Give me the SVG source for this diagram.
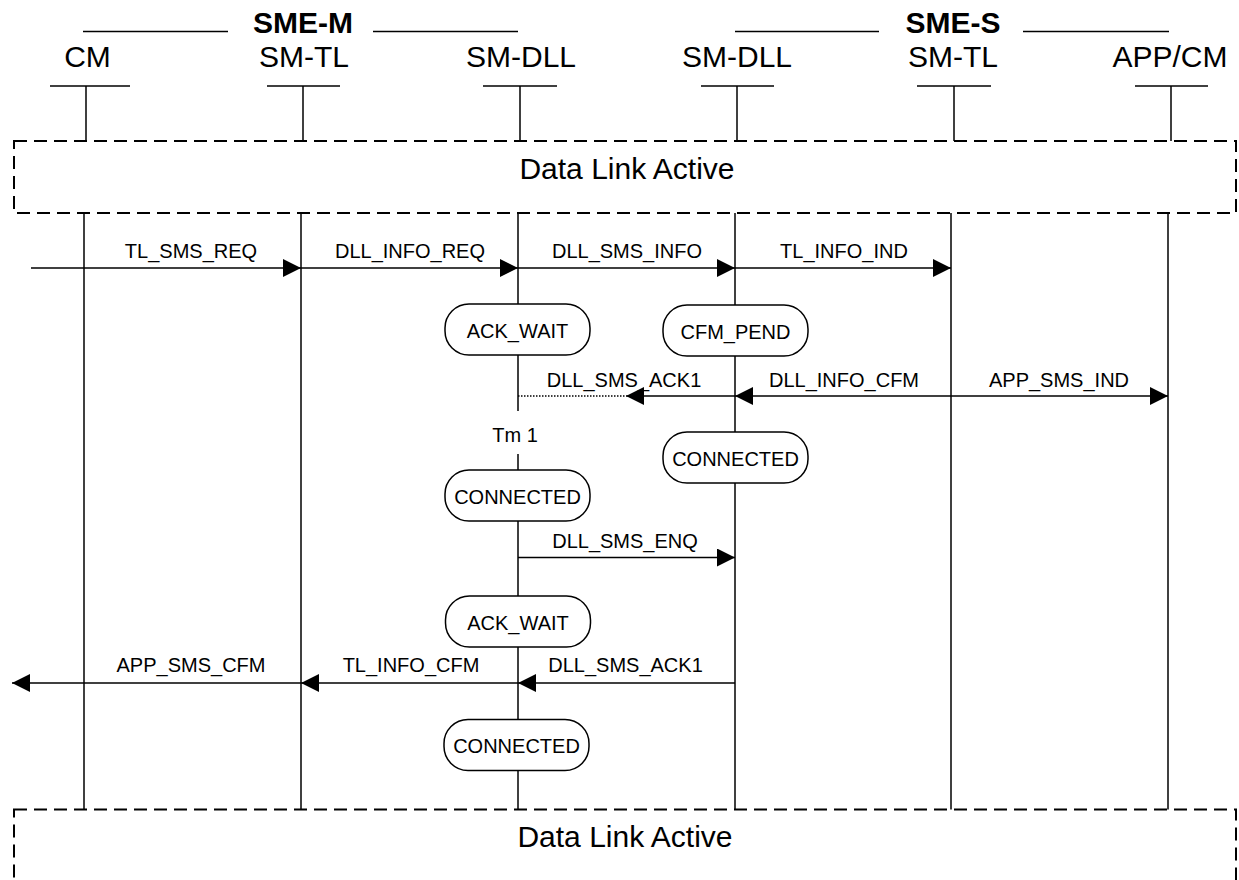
<svg xmlns="http://www.w3.org/2000/svg" width="1239" height="880" viewBox="0 0 1239 880">
<style>
  text { font-family: "Liberation Sans", Arial, sans-serif; fill: #000; }
  .hdr { font-size: 30px; text-anchor: middle; }
  .grp { font-size: 30px; font-weight: bold; text-anchor: middle; }
  .lbl { font-size: 20px; text-anchor: middle; }
  .big { font-size: 30px; text-anchor: middle; }
  .ln { stroke: #000; stroke-width: 1.5; fill: none; }
  .dash { stroke: #000; stroke-width: 2; fill: none; stroke-dasharray: 13 7; }
  .msg { stroke: #000; stroke-width: 1.5; fill: none; marker-end: url(#ah); }
  .dot { stroke: #000; stroke-width: 1.5; fill: none; stroke-dasharray: 1.5 1.5; }
  .state { stroke: #000; stroke-width: 1.5; fill: #fff; }
</style>
<defs>
  <marker id="ah" markerUnits="userSpaceOnUse" markerWidth="18" markerHeight="18" refX="18" refY="9" orient="auto">
    <path d="M0,0 L18,9 L0,18 Z" fill="#000"/>
  </marker>
</defs>
<rect width="1239" height="880" fill="#fff"/>

<!-- group headings -->
<g id="sme-m">
  <line class="ln" x1="83" y1="31.5" x2="228" y2="31.5"/>
  <line class="ln" x1="373" y1="31.5" x2="518" y2="31.5"/>
  <text class="grp" x="303" y="33">SME-M</text>
</g>
<g id="sme-s">
  <line class="ln" x1="735" y1="31.5" x2="879" y2="31.5"/>
  <line class="ln" x1="1023" y1="31.5" x2="1169" y2="31.5"/>
  <text class="grp" x="953" y="33">SME-S</text>
</g>

<!-- lifeline heads -->
<g id="cm">
  <text class="hdr" x="87.5" y="67">CM</text>
  <line class="ln" x1="50" y1="86" x2="130" y2="86"/>
  <line class="ln" x1="86" y1="86" x2="86" y2="141"/>
  <line class="ln" x1="84" y1="213" x2="84" y2="809.5"/>
</g>
<g id="sm-tl-m">
  <text class="hdr" x="304" y="67">SM-TL</text>
  <line class="ln" x1="267" y1="86" x2="340" y2="86"/>
  <line class="ln" x1="303" y1="86" x2="303" y2="141"/>
  <line class="ln" x1="301" y1="213" x2="301" y2="809.5"/>
</g>
<g id="sm-dll-m">
  <text class="hdr" x="521" y="67">SM-DLL</text>
  <line class="ln" x1="483" y1="86" x2="557" y2="86"/>
  <line class="ln" x1="520" y1="86" x2="520" y2="141"/>
  <line class="ln" x1="518" y1="213" x2="518" y2="411"/>
  <line class="ln" x1="518" y1="454" x2="518" y2="809.5"/>
</g>
<g id="sm-dll-s">
  <text class="hdr" x="737" y="67">SM-DLL</text>
  <line class="ln" x1="701" y1="86" x2="774" y2="86"/>
  <line class="ln" x1="737" y1="86" x2="737" y2="141"/>
  <line class="ln" x1="735" y1="213" x2="735" y2="809.5"/>
</g>
<g id="sm-tl-s">
  <text class="hdr" x="953" y="67">SM-TL</text>
  <line class="ln" x1="917" y1="86" x2="991" y2="86"/>
  <line class="ln" x1="954" y1="86" x2="954" y2="141"/>
  <line class="ln" x1="951" y1="213" x2="951" y2="809.5"/>
</g>
<g id="app-cm">
  <text class="hdr" x="1170" y="67">APP/CM</text>
  <line class="ln" x1="1135" y1="86" x2="1208" y2="86"/>
  <line class="ln" x1="1171" y1="86" x2="1171" y2="141"/>
  <line class="ln" x1="1168" y1="213" x2="1168" y2="809.5"/>
</g>

<!-- Data link active frames -->
<g id="dla-top">
  <rect class="dash" x="14" y="141" width="1222" height="72"/>
  <text class="big" x="627" y="178.5">Data Link Active</text>
</g>
<g id="dla-bottom">
  <rect class="dash" x="14" y="809.5" width="1222" height="72"/>
  <text class="big" x="625" y="847">Data Link Active</text>
</g>

<!-- connectors -->
<g id="connectors">
  <line class="msg" x1="31" y1="268" x2="301" y2="268"/>
  <text class="lbl" x="191" y="258">TL_SMS_REQ</text>
  <line class="msg" x1="301" y1="268" x2="518" y2="268"/>
  <text class="lbl" x="410" y="258">DLL_INFO_REQ</text>
  <line class="msg" x1="518" y1="268" x2="735" y2="268"/>
  <text class="lbl" x="627" y="258">DLL_SMS_INFO</text>
  <line class="msg" x1="735" y1="268" x2="951" y2="268"/>
  <text class="lbl" x="844" y="258">TL_INFO_IND</text>

  <line class="dot" x1="518" y1="396" x2="626" y2="396"/>
  <line class="msg" x1="735" y1="396" x2="626" y2="396"/>
  <text class="lbl" x="624" y="387">DLL_SMS_ACK1</text>
  <line class="msg" x1="951" y1="396" x2="735" y2="396"/>
  <text class="lbl" x="844" y="387">DLL_INFO_CFM</text>
  <line class="msg" x1="951" y1="396" x2="1168" y2="396"/>
  <text class="lbl" x="1059" y="387">APP_SMS_IND</text>

  <text class="lbl" x="515" y="442">Tm 1</text>

  <line class="msg" x1="518" y1="557.5" x2="735" y2="557.5"/>
  <text class="lbl" x="625" y="548">DLL_SMS_ENQ</text>

  <line class="msg" x1="735" y1="683" x2="518" y2="683"/>
  <text class="lbl" x="625.5" y="672">DLL_SMS_ACK1</text>
  <line class="msg" x1="518" y1="683" x2="301" y2="683"/>
  <text class="lbl" x="411" y="672">TL_INFO_CFM</text>
  <line class="msg" x1="301" y1="683" x2="12" y2="683"/>
  <text class="lbl" x="191" y="672">APP_SMS_CFM</text>
</g>

<!-- states -->
<g id="st-ackwait-1">
  <rect class="state" x="445" y="304" width="145" height="51" rx="24" ry="24"/>
  <text class="lbl" x="517.5" y="338">ACK_WAIT</text>
</g>
<g id="st-cfmpend">
  <rect class="state" x="663" y="305" width="145" height="51" rx="24" ry="24"/>
  <text class="lbl" x="735.5" y="339">CFM_PEND</text>
</g>
<g id="st-connected-s">
  <rect class="state" x="663" y="432" width="145" height="51" rx="24" ry="24"/>
  <text class="lbl" x="735.5" y="465.5">CONNECTED</text>
</g>
<g id="st-connected-m1">
  <rect class="state" x="445" y="470" width="145" height="51" rx="24" ry="24"/>
  <text class="lbl" x="517.5" y="503.5">CONNECTED</text>
</g>
<g id="st-ackwait-2">
  <rect class="state" x="445.5" y="596" width="145" height="51" rx="24" ry="24"/>
  <text class="lbl" x="518" y="630">ACK_WAIT</text>
</g>
<g id="st-connected-m2">
  <rect class="state" x="444" y="719.5" width="145" height="51" rx="24" ry="24"/>
  <text class="lbl" x="516.5" y="753">CONNECTED</text>
</g>
</svg>
